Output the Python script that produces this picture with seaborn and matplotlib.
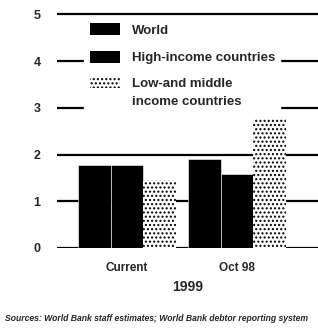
import pandas as pd
import numpy as np
import matplotlib
matplotlib.use("Agg")
import matplotlib.pyplot as plt
import seaborn as sns

# data
periods = ["Current", "Oct 98"]
groups = ["World", "High-income countries", "Low-and middle\nincome countries"]
world = [1.77, 1.90]
high_income = [1.77, 1.58]
low_middle = [1.45, 2.78]
y_ticks = [0, 1, 2, 3, 4, 5]

df = pd.DataFrame({
    "period": periods * 3,
    "group": [groups[0]] * 2 + [groups[1]] * 2 + [groups[2]] * 2,
    "value": world + high_income + low_middle,
})

sns.set_style("white")
plt.rcParams["font.family"] = ["Liberation Sans", "DejaVu Sans"]

fig = plt.figure(figsize=(3.18, 3.36), dpi=100)
ax = fig.add_axes([0.18, 0.262, 0.82, 0.702])

sns.barplot(data=df, x="period", y="value", hue="group", order=periods,
            hue_order=groups, palette=["black", "black", "white"],
            width=0.89, ax=ax, saturation=1, linewidth=0, legend=True)

# stipple the third series, thin white gap between black bars
for i, patch in enumerate(ax.patches):
    if i >= 4 and i < 6:
        patch.set_hatch("....")
        patch.set_edgecolor("black")
        patch.set_linewidth(0)
    elif i < 4:
        patch.set_edgecolor("white")
        patch.set_linewidth(0.4)

for y in y_ticks:
    ax.axhline(y, color="black", lw=1.6, zorder=0)

ax.set_ylim(0, 5.05)
ax.set_xlim(-0.636, 1.736)
ax.set_yticks(y_ticks)
ax.set_yticklabels([str(t) for t in y_ticks], fontsize=9, fontweight="bold")
ax.tick_params(axis="y", length=0, pad=12)
ax.tick_params(axis="x", length=0, pad=10)
ax.set_xticks([0, 1])
ax.set_xticklabels(periods, fontsize=8.5, fontweight="bold")
ax.set_xlabel("")
ax.set_ylabel("")
for s in ax.spines.values():
    s.set_visible(False)

leg = ax.legend(loc="upper left", bbox_to_anchor=(0.079, 1.004), frameon=True,
                facecolor="white", edgecolor="white", framealpha=1,
                fontsize=9.5, handlelength=2.3, handleheight=1.05,
                labelspacing=1.05, borderpad=0.4, handletextpad=0.9)
for t in leg.get_texts():
    t.set_fontweight("bold")
    t.set_linespacing(1.7)
h3 = leg.legend_handles[2]
h3.set_hatch("....")
h3.set_edgecolor("black")
h3.set_linewidth(0)
# handle sits level with the first line of the wrapped label
h3.set_y(h3.get_y() + 8)

fig.text(0.59, 0.135, "1999", fontsize=10, fontweight="bold", ha="center")
fig.text(0.015, 0.045, "Sources: World Bank staff estimates; World Bank debtor reporting system",
         fontsize=6.2, fontweight="bold", fontstyle="italic", ha="left")

fig.savefig("out.png", dpi=100)
